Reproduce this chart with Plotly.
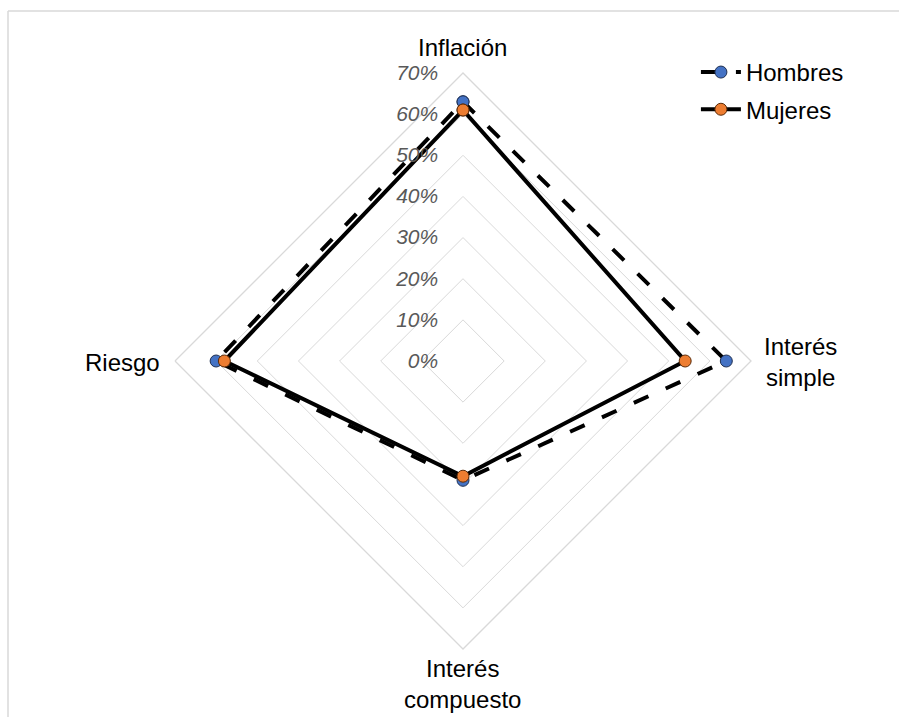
import plotly.graph_objects as go

# Categories, clockwise from the top
categorias = ["Inflación", "Interés simple", "Interés compuesto", "Riesgo"]
etiquetas = ["Inflación", "Interés<br>simple", "Interés<br>compuesto", "Riesgo"]

# Share of respondents per topic
hombres = [0.63, 0.64, 0.29, 0.60]
mujeres = [0.61, 0.54, 0.28, 0.58]

radial_ticks = [0, 0.1, 0.2, 0.3, 0.4, 0.5, 0.6, 0.7]

W, H = 899, 717
L, R, T, B = 175, 148, 73, 68

FONT = "Liberation Sans, Arial, sans-serif"
GRID = "#d9d9d9"


def closed(values):
    return list(values) + [values[0]]


fig = go.Figure()

fig.add_trace(go.Scatterpolar(
    r=closed(hombres),
    theta=closed(categorias),
    name="Hombres",
    legendgroup="h",
    mode="lines+markers",
    line=dict(color="black", width=4, dash="16px,19px"),
    marker=dict(size=12, color="#4472C4", line=dict(color="#1f2f50", width=1)),
))

fig.add_trace(go.Scatterpolar(
    r=closed(mujeres),
    theta=closed(categorias),
    name="Mujeres",
    legendgroup="m",
    mode="lines+markers",
    line=dict(color="black", width=4),
    marker=dict(size=12, color="#ED7D31", line=dict(color="#5a2a08", width=1)),
))

fig.update_layout(
    width=W,
    height=H,
    margin=dict(l=L, r=R, t=T, b=B),
    paper_bgcolor="white",
    plot_bgcolor="white",
    font=dict(family=FONT, size=24, color="black"),
    polar=dict(
        bgcolor="white",
        gridshape="linear",
        domain=dict(x=[0, 1], y=[0, 1]),
        angularaxis=dict(
            rotation=90,
            direction="clockwise",
            categoryorder="array",
            categoryarray=categorias,
            showgrid=False,
            showline=True,
            linecolor=GRID,
            linewidth=1.3,
            ticks="",
            showticklabels=False,
        ),
        radialaxis=dict(
            range=[0, 0.7],
            tickvals=radial_ticks,
            tickformat=".0%",
            angle=90,
            tickangle=90,
            side="counterclockwise",
            showline=False,
            showgrid=True,
            gridcolor=GRID,
            gridwidth=1.3,
            ticks="outside",
            ticklen=17,
            tickcolor="rgba(0,0,0,0)",
            tickfont=dict(family=FONT, size=21, color="#595959", style="italic"),
        ),
    ),
    legend=dict(
        x=1.17, y=1.04,
        xanchor="right", yanchor="top",
        bgcolor="rgba(0,0,0,0)",
        font=dict(family=FONT, size=24, color="black"),
        tracegroupgap=3,
        itemwidth=40,
    ),
    showlegend=True,
)

pw = W - L - R
ph = H - T - B


def px_x(x):
    return (x - L) / pw


def px_y(y):
    return (H - B - y) / ph


# Category labels around the outer diamond
label_pos = [
    (462, 47, "center", "middle"),
    (800, 362, "center", "middle"),
    (462, 684, "center", "middle"),
    (162, 362, "right", "middle"),
]
for text, (x, y, xa, ya) in zip(etiquetas, label_pos):
    fig.add_annotation(
        x=px_x(x), y=px_y(y), xref="paper", yref="paper",
        text=text, showarrow=False, xanchor=xa, yanchor=ya, align="center",
        font=dict(family=FONT, size=24, color="black"),
    )

# Light frame around the chart area (top and left edges)
FRAME = "#d9d9d9"
fig.add_shape(type="line", xref="paper", yref="paper",
              x0=px_x(8), x1=px_x(W), y0=px_y(11), y1=px_y(11),
              line=dict(color=FRAME, width=1.5))
fig.add_shape(type="line", xref="paper", yref="paper",
              x0=px_x(8), x1=px_x(8), y0=px_y(11), y1=px_y(H),
              line=dict(color=FRAME, width=1.5))

fig.write_html("out.html")
